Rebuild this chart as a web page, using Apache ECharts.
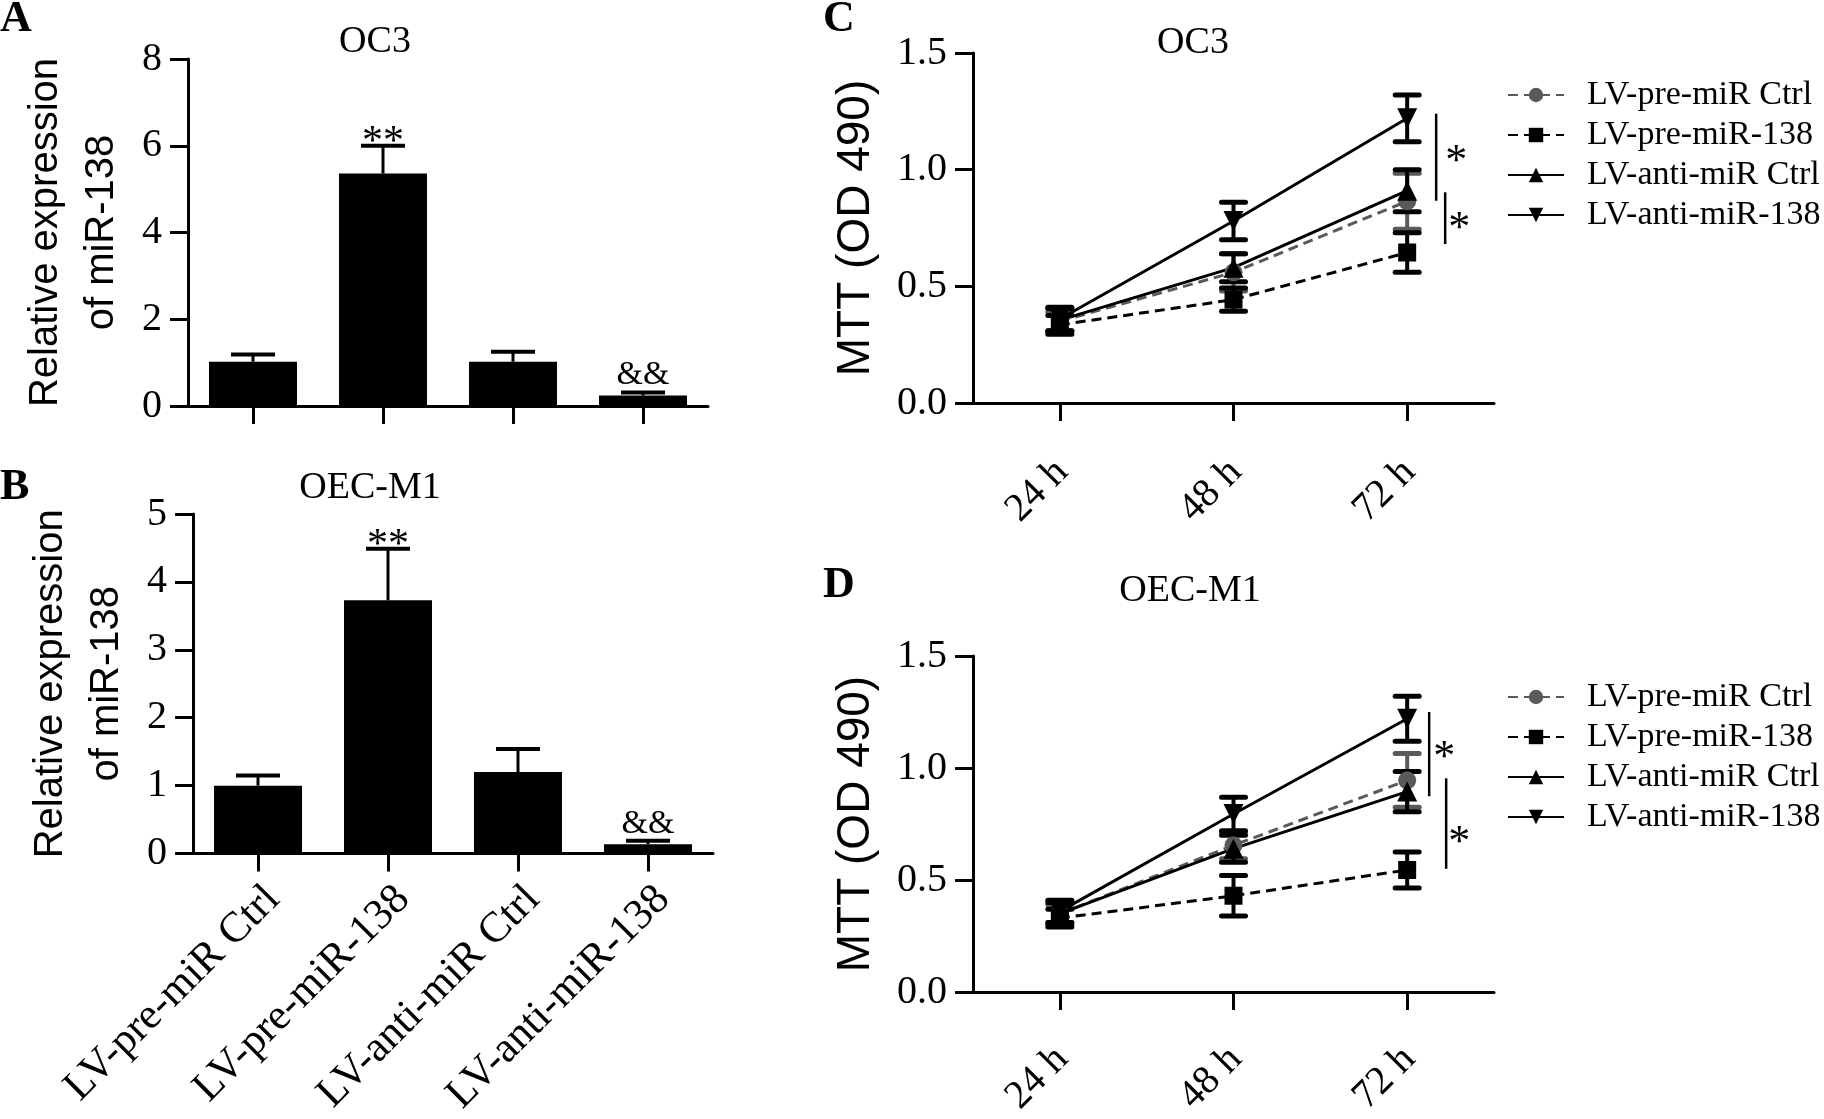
<!DOCTYPE html>
<html>
<head>
<meta charset="utf-8">
<script src="https://cdn.jsdelivr.net/npm/echarts@6/dist/echarts.min.js"></script>
<style>
html,body{margin:0;padding:0;background:#fff;}
#chart{width:1824px;height:1119px;}
</style>
</head>
<body>
<div id="chart"></div>
<script>
// ---------- data ----------
const barCategories = ['LV-pre-miR Ctrl', 'LV-pre-miR-138', 'LV-anti-miR Ctrl', 'LV-anti-miR-138'];
const oc3BarMean = [1.02, 5.36, 1.02, 0.24];
const oc3BarErr = [0.17, 0.64, 0.23, 0.07];
const oc3BarMark = ['', '**', '', '&&'];
const oecBarMean = [1.0, 3.73, 1.2, 0.137];
const oecBarErr = [0.15, 0.76, 0.34, 0.05];
const oecBarMark = ['', '**', '', '&&'];

const timeLabels = ['24 h', '48 h', '72 h'];
const seriesNames = ['LV-pre-miR Ctrl', 'LV-pre-miR-138', 'LV-anti-miR Ctrl', 'LV-anti-miR-138'];

const oc3PreCtrl = [0.35, 0.56, 0.865];
const oc3PreCtrlErr = [0.04, 0.08, 0.12];
const oc3Pre138 = [0.335, 0.443, 0.645];
const oc3Pre138Err = [0.04, 0.05, 0.085];
const oc3AntiCtrl = [0.355, 0.58, 0.91];
const oc3AntiCtrlErr = [0.05, 0.06, 0.09];
const oc3Anti138 = [0.36, 0.78, 1.22];
const oc3Anti138Err = [0.05, 0.08, 0.1];

const oecPreCtrl = [0.35, 0.655, 0.945];
const oecPreCtrlErr = [0.04, 0.06, 0.12];
const oecPre138 = [0.33, 0.43, 0.545];
const oecPre138Err = [0.04, 0.09, 0.08];
const oecAntiCtrl = [0.35, 0.64, 0.895];
const oecAntiCtrlErr = [0.05, 0.06, 0.09];
const oecAnti138 = [0.36, 0.795, 1.22];
const oecAnti138Err = [0.05, 0.075, 0.1];

// significance brackets at 72 h: [low, high] and star value
const oc3SigRange = [[0.867, 1.24], [0.681, 0.903]];
const oc3SigStar = [1.064, 0.778];
const oecSigRange = [[0.874, 1.25], [0.55, 0.954]];
const oecSigStar = [1.08, 0.70];

// ---------- style ----------
const SERIF = 'Liberation Serif';
const SANS = 'Liberation Sans';
const GRAY = '#5a5a5a';
const sigOffsetC = {line: [29, 38], star: [49, 52]};
const sigOffsetD = {line: [22, 39], star: [37, 52]};

const chart = echarts.init(document.getElementById('chart'));

function valAxis(gi, min, max, interval, name, nameGap, nameSize, lineH, dec) {
  return {
    type: 'value', gridIndex: gi, min: min, max: max, interval: interval,
    axisLine: {show: true, lineStyle: {color: '#000', width: 3}},
    axisTick: {show: true, length: 18, lineStyle: {color: '#000', width: 3}},
    splitLine: {show: false},
    axisLabel: {color: '#000', fontFamily: SERIF, fontSize: 40, margin: 26,
      formatter: v => dec ? v.toFixed(1) : String(v)},
    name: name, nameLocation: 'middle', nameRotate: 90, nameGap: nameGap,
    nameTextStyle: {color: '#000', fontFamily: SANS, fontSize: nameSize, lineHeight: lineH}
  };
}
function catAxis(gi, data, showLabel, margin, fontSize, padRight) {
  return {
    type: 'category', gridIndex: gi, data: data,
    axisLine: {show: true, lineStyle: {color: '#000', width: 3}},
    axisTick: {show: true, alignWithLabel: true, length: 18, lineStyle: {color: '#000', width: 3}},
    splitLine: {show: false},
    axisLabel: {show: showLabel, rotate: 45, color: '#000', fontFamily: SERIF, fontSize: fontSize,
      margin: margin, interval: 0, verticalAlign: 'top', padding: [0, padRight, 0, 0]}
  };
}

function barErrRender(marks) {
  return function (params, api) {
    const i = api.value(0), m = api.value(1), e = api.value(2);
    const base = api.coord([i, m]);
    const top = api.coord([i, m + e]);
    const hw = 22;
    const children = [
      {type: 'line', shape: {x1: top[0], y1: base[1], x2: top[0], y2: top[1]}, style: {stroke: '#000', lineWidth: 3}},
      {type: 'line', shape: {x1: top[0] - hw, y1: top[1], x2: top[0] + hw, y2: top[1]}, style: {stroke: '#000', lineWidth: 4}}
    ];
    const mk = marks[params.dataIndex];
    if (mk) {
      const isStar = mk.indexOf('*') >= 0;
      children.push({type: 'text', x: top[0], y: top[1] + (isStar ? -3 : -17),
        style: {text: mk, fontFamily: SERIF, fontSize: isStar ? 42 : 34, fill: '#000', align: 'center', verticalAlign: 'middle'}});
    }
    return {type: 'group', children: children};
  };
}
function lineErrRender(color) {
  return function (params, api) {
    const i = api.value(0), m = api.value(1), e = api.value(2);
    const hi = api.coord([i, m + e]);
    const lo = api.coord([i, m - e]);
    const hw = 12;
    return {type: 'group', children: [
      {type: 'line', shape: {x1: hi[0], y1: hi[1], x2: lo[0], y2: lo[1]}, style: {stroke: color, lineWidth: 4}},
      {type: 'line', shape: {x1: hi[0] - hw, y1: hi[1], x2: hi[0] + hw, y2: hi[1]}, style: {stroke: color, lineWidth: 5, lineCap: 'round'}},
      {type: 'line', shape: {x1: lo[0] - hw, y1: lo[1], x2: lo[0] + hw, y2: lo[1]}, style: {stroke: color, lineWidth: 5, lineCap: 'round'}}
    ]};
  };
}
function sigRender(ranges, stars, offs) {
  return function (params, api) {
    const k = params.dataIndex;
    const i = api.value(0);
    const a = api.coord([i, ranges[k][0]]);
    const b = api.coord([i, ranges[k][1]]);
    const s = api.coord([i, stars[k]]);
    const x = a[0] + offs.line[k];
    return {type: 'group', children: [
      {type: 'line', shape: {x1: x, y1: a[1], x2: x, y2: b[1]}, style: {stroke: '#000', lineWidth: 2.5}},
      {type: 'text', x: a[0] + offs.star[k], y: s[1] + 8,
        style: {text: '*', fontFamily: SERIF, fontSize: 44, fill: '#000', align: 'center', verticalAlign: 'middle'}}
    ]};
  };
}

const lineDefs = [
  {name: seriesNames[0], color: GRAY, dash: [10, 6], symbol: 'circle', size: 18},
  {name: seriesNames[1], color: '#000', dash: [10, 6], symbol: 'rect', size: 18},
  {name: seriesNames[2], color: '#000', dash: 'solid', symbol: 'triangle', size: 20},
  {name: seriesNames[3], color: '#000', dash: 'solid', symbol: 'path://M0,0 L2,0 L1,2 Z', size: 20}
];
const oc3Lines = [[oc3PreCtrl, oc3PreCtrlErr], [oc3Pre138, oc3Pre138Err], [oc3AntiCtrl, oc3AntiCtrlErr], [oc3Anti138, oc3Anti138Err]];
const oecLines = [[oecPreCtrl, oecPreCtrlErr], [oecPre138, oecPre138Err], [oecAntiCtrl, oecAntiCtrlErr], [oecAnti138, oecAnti138Err]];

const series = [];
[[0, oc3BarMean, oc3BarErr, oc3BarMark], [1, oecBarMean, oecBarErr, oecBarMark]].forEach(([gi, mean, err, marks]) => {
  series.push({type: 'bar', xAxisIndex: gi, yAxisIndex: gi, data: mean, barWidth: 88,
    itemStyle: {color: '#000'}, z: 2, silent: true});
  series.push({type: 'custom', xAxisIndex: gi, yAxisIndex: gi, z: 3, silent: true,
    encode: {x: 0, y: 1},
    data: mean.map((m, i) => [i, m, err[i]]),
    renderItem: barErrRender(marks)});
});
[[2, oc3Lines], [3, oecLines]].forEach(([gi, sets]) => {
  sets.forEach((s, k) => {
    const d = lineDefs[k];
    series.push({type: 'custom', xAxisIndex: gi, yAxisIndex: gi, z: 3, silent: true,
      encode: {x: 0, y: 1},
      data: s[0].map((m, i) => [i, m, s[1][i]]),
      renderItem: lineErrRender(d.color)});
  });
  sets.forEach((s, k) => {
    const d = lineDefs[k];
    series.push({type: 'line', name: d.name, xAxisIndex: gi, yAxisIndex: gi, z: 4, data: s[0],
      symbol: d.symbol, symbolSize: d.size, showSymbol: true,
      itemStyle: {color: d.color, opacity: 1},
      lineStyle: {color: d.color, width: 3, type: d.dash}});
  });
});
series.push({type: 'custom', xAxisIndex: 2, yAxisIndex: 2, z: 5, silent: true, encode: {x: 0, y: 1},
  data: oc3SigRange.map(r => [2, r[0], r[1]]), renderItem: sigRender(oc3SigRange, oc3SigStar, sigOffsetC)});
series.push({type: 'custom', xAxisIndex: 3, yAxisIndex: 3, z: 5, silent: true, encode: {x: 0, y: 1},
  data: oecSigRange.map(r => [2, r[0], r[1]]), renderItem: sigRender(oecSigRange, oecSigStar, sigOffsetD)});

function legendAt(top) {
  return {data: seriesNames, orient: 'vertical', left: 1502, top: top,
    itemWidth: 56, itemHeight: 18, itemGap: 6, selectedMode: false,
    textStyle: {color: '#000', fontFamily: SERIF, fontSize: 34, lineHeight: 22, padding: [0, 0, 0, 18]}};
}

function label(text, x, y, size, bold) {
  return {type: 'text', x: x, y: y, style: {text: text, fontFamily: SERIF, fontSize: size,
    fontWeight: bold ? 'bold' : 'normal', fill: '#000', align: bold ? 'left' : 'center', verticalAlign: 'middle'}};
}

chart.setOption({
  animation: false,
  backgroundColor: '#fff',
  grid: [
    {left: 188, top: 59, width: 520, height: 347},
    {left: 193, top: 514, width: 520, height: 350},
    {left: 973, top: 53, width: 521, height: 350},
    {left: 973, top: 656, width: 521, height: 349}
  ],
  xAxis: [
    catAxis(0, barCategories, false, 10, 43, 0),
    catAxis(1, barCategories, true, 24, 43, 0),
    catAxis(2, timeLabels, true, 37, 40, 17),
    catAxis(3, timeLabels, true, 35, 40, 17)
  ],
  yAxis: [
    valAxis(0, 0, 8, 2, 'Relative expression\nof miR-138', 58, 40, 56, false),
    valAxis(1, 0, 5, 1, 'Relative expression\nof miR-138', 58, 40, 56, false),
    valAxis(2, 0, 1.5, 0.5, 'MTT (OD 490)', 92, 46, 50, true),
    valAxis(3, 0, 1.5, 0.5, 'MTT (OD 490)', 92, 46, 50, true)
  ],
  legend: [legendAt(73), legendAt(675)],
  series: series,
  graphic: [
    label('A', 0, 20, 44, true),
    label('B', 0, 488, 44, true),
    label('C', 823, 20, 44, true),
    label('D', 823, 586, 44, true),
    label('OC3', 375, 42, 38, false),
    label('OEC-M1', 370, 488, 38, false),
    label('OC3', 1193, 43, 38, false),
    label('OEC-M1', 1190, 591, 38, false)
  ]
});
</script>
</body>
</html>
